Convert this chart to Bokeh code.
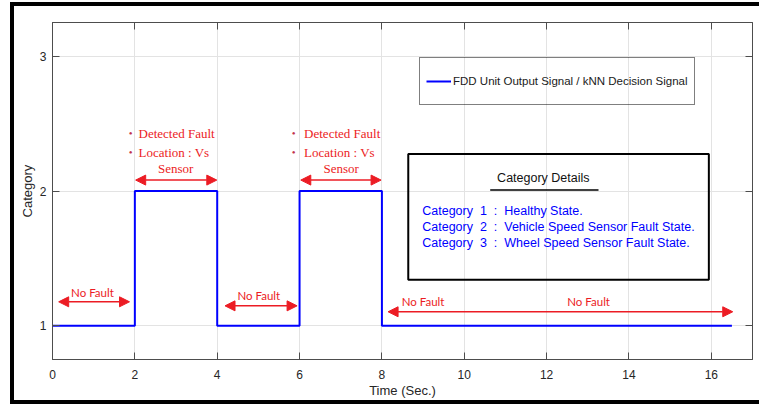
from bokeh.plotting import figure
from bokeh.models import (Range1d, LinearAxis, FixedTicker, Legend, LegendItem,
                          BoxAnnotation, Arrow, NormalHead, InlineStyleSheet)
from bokeh.core.properties import value
from bokeh.embed import file_html
from bokeh.resources import INLINE

# ---- data ----
time_s = [0, 2, 2, 4, 4, 6, 6, 8, 8, 16.5]
category = [1, 1, 2, 2, 1, 1, 2, 2, 1, 1]
x_ticks = [0, 2, 4, 6, 8, 10, 12, 14, 16]
y_ticks = [1, 2, 3]
series_name = "FDD Unit Output Signal / kNN Decision Signal"

# annotations (data coordinates)
nofault_x = [0.97, 5.01, 9.0, 13.02]
nofault_y = [1.245, 1.222, 1.178, 1.178]
arrow_x0 = [0.15, 4.19, 8.15, 2.02, 6.03]
arrow_x1 = [1.87, 5.94, 16.52, 3.99, 7.98]
arrow_y = [1.178, 1.148, 1.104, 2.081, 2.081]
fault_text_x = [2.09, 6.11]
bullet_x = [1.90, 5.86]
sensor_x = [2.99, 7.01]
line1_y, line2_y, sensor_y = 2.43, 2.289, 2.170

NB = "\u00a0"
cat_lines = [f"Category{NB*2}1{NB*2}:{NB*2}Healthy State.",
             f"Category{NB*2}2{NB*2}:{NB*2}Vehicle Speed Sensor Fault State.",
             f"Category{NB*2}3{NB*2}:{NB*2}Wheel Speed Sensor Fault State."]
cat_lines_y = [1.852, 1.733, 1.615]

RED = "#ec1c24"
BLUE = "#0000ff"
AX = "#4d4d4d"

frame_css = InlineStyleSheet(css="""
:host { position: relative; }
:host::after {
  content: ""; position: absolute; left: 10px; top: 2px;
  width: 760px; height: 402px; box-sizing: border-box;
  border: 4px solid black; pointer-events: none; z-index: 10;
}
""")

p = figure(width=759, height=405, output_backend="svg", toolbar_location=None,
           x_range=Range1d(0, 17), y_range=Range1d(0.75, 3.25),
           min_border_left=52, min_border_right=7, min_border_top=22, min_border_bottom=46,
           stylesheets=[frame_css])
p.background_fill_color = "white"
p.border_fill_color = "white"
p.outline_line_color = AX
p.outline_line_width = 1

for ax in (p.xaxis[0], p.yaxis[0]):
    ax.axis_line_color = AX
    ax.major_tick_line_color = AX
    ax.major_tick_in = 7
    ax.major_tick_out = 0
    ax.minor_tick_line_color = None
    ax.major_label_text_font = "Liberation Sans"
    ax.major_label_text_font_size = "12px"
    ax.major_label_text_color = "#262626"
    ax.axis_label_text_font = "Liberation Sans"
    ax.axis_label_text_font_size = "13px"
    ax.axis_label_text_font_style = "normal"
    ax.axis_label_text_color = "#262626"
p.xaxis[0].ticker = FixedTicker(ticks=x_ticks)
p.yaxis[0].ticker = FixedTicker(ticks=y_ticks)
p.xaxis[0].axis_label = "Time (Sec.)"
p.yaxis[0].axis_label = "Category"
p.xaxis[0].major_label_standoff = 10
p.xaxis[0].axis_label_standoff = 1
p.yaxis[0].major_label_standoff = 6
p.yaxis[0].axis_label_standoff = 2

top_ax = LinearAxis(ticker=FixedTicker(ticks=x_ticks), major_label_text_font_size="0px",
                    major_tick_in=7, major_tick_out=0, axis_line_color=AX,
                    major_tick_line_color=AX, minor_tick_line_color=None,
                    major_label_standoff=0)
right_ax = LinearAxis(ticker=FixedTicker(ticks=y_ticks), major_label_text_font_size="0px",
                      major_tick_in=7, major_tick_out=0, axis_line_color=AX,
                      major_tick_line_color=AX, minor_tick_line_color=None,
                      major_label_standoff=0)
p.add_layout(top_ax, "above")
p.add_layout(right_ax, "right")

p.xgrid.ticker = FixedTicker(ticks=x_ticks)
p.ygrid.ticker = FixedTicker(ticks=y_ticks)
p.xgrid.grid_line_color = "#e3e3e3"
p.ygrid.grid_line_color = "#e3e3e3"

r = p.line(time_s, category, line_color=BLUE, line_width=2)

legend = Legend(items=[LegendItem(label=series_name, renderers=[r])],
                location=(367, 254), padding=6, margin=0, spacing=0,
                label_height=34, glyph_height=34, glyph_width=25, label_standoff=2,
                border_line_color="black", border_line_width=1.5,
                background_fill_alpha=0,
                label_text_font="Liberation Sans", label_text_font_size="11.5px",
                label_text_color="#1a1a1a")
p.add_layout(legend)

p.add_layout(BoxAnnotation(left=8.64, right=15.94, top=2.274, bottom=1.341,
                           fill_alpha=0, line_color="black", line_alpha=1, line_width=2))
p.text(x=[11.92], y=[2.096], text=["Category Details"], text_align="center",
       text_baseline="middle", text_font=value("Liberation Sans"),
       text_font_size="12.5px", text_color="#111111")
p.segment(x0=[10.63], y0=[2.007], x1=[13.26], y1=[2.007], line_color="black", line_width=1.5)
p.text(x=[8.98] * 3, y=cat_lines_y, text=cat_lines, text_align="left",
       text_baseline="middle", text_font=value("Liberation Sans"),
       text_font_size="12.5px", text_color=BLUE)

p.text(x=nofault_x, y=nofault_y, text=["No Fault"] * 4, text_align="center",
       text_baseline="middle", text_font=value("Lato"), text_font_size="11.5px",
       text_color=RED)
for x0, x1, y in zip(arrow_x0, arrow_x1, arrow_y):
    p.add_layout(Arrow(x_start=x0, x_end=x1, y_start=y, y_end=y,
                       line_color=RED, line_width=1.5,
                       start=NormalHead(size=10, fill_color=RED, line_color=RED),
                       end=NormalHead(size=10, fill_color=RED, line_color=RED)))
p.text(x=fault_text_x * 2, y=[line1_y] * 2 + [line2_y] * 2,
       text=["Detected Fault"] * 2 + ["Location : Vs"] * 2, text_align="left",
       text_baseline="middle", text_font=value("Liberation Serif"),
       text_font_size="13px", text_color=RED)
p.text(x=bullet_x * 2, y=[line1_y] * 2 + [line2_y] * 2, text=["\u2022"] * 4,
       text_align="center", text_baseline="middle", text_font=value("Liberation Serif"),
       text_font_size="11px", text_color="#c0304a")
p.text(x=sensor_x, y=[sensor_y] * 2, text=["Sensor"] * 2, text_align="center",
       text_baseline="middle", text_font=value("Liberation Serif"),
       text_font_size="13px", text_color=RED)

open("out.html", "w").write(file_html(p, INLINE))
